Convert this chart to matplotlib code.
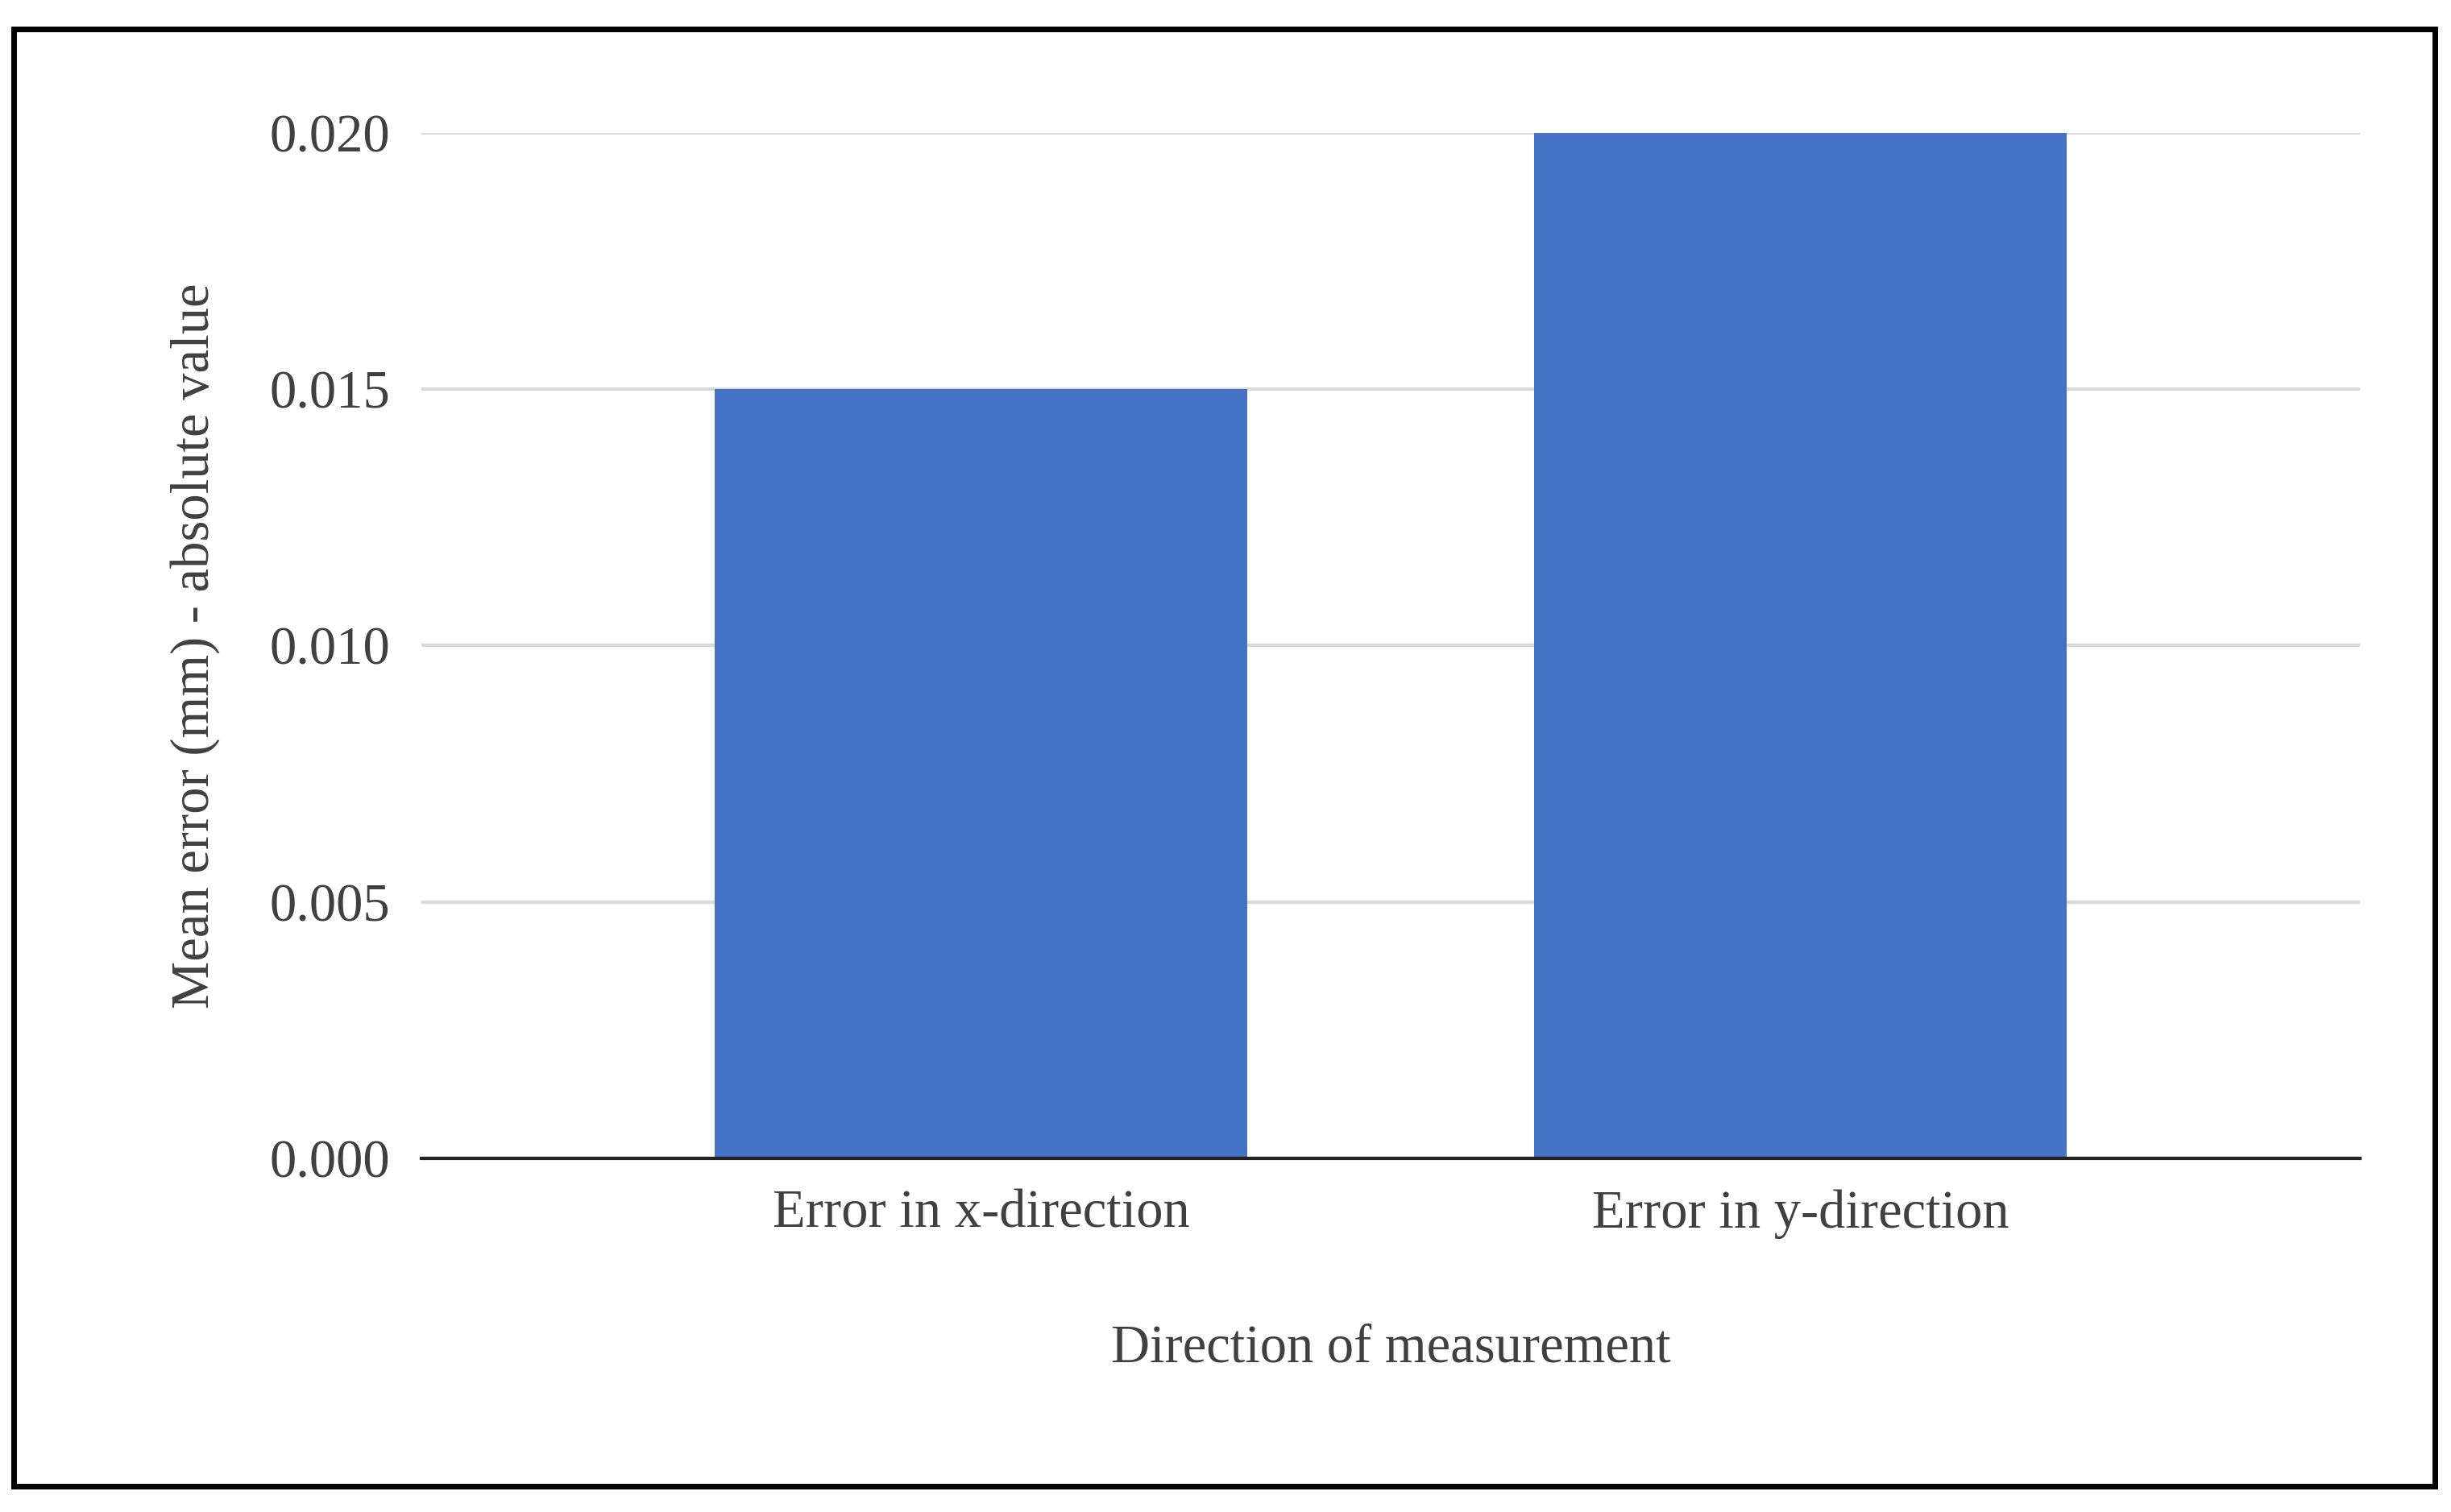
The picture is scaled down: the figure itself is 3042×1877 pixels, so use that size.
import matplotlib
matplotlib.use("Agg")
import matplotlib.pyplot as plt
from matplotlib.patches import Rectangle

categories = ["Error in x-direction", "Error in y-direction"]
values = [0.015, 0.020]
yticks = [0.000, 0.005, 0.010, 0.015, 0.020]

plt.rcParams['font.family'] = ['Liberation Serif', 'DejaVu Serif']
fig = plt.figure(figsize=(15.21, 9.385), dpi=200)
ax = fig.add_axes([0.172, 0.234, 0.791, 0.678])
ax.bar(range(len(categories)), values, width=0.65, color="#4472C4", zorder=3)
ax.set_xlim(-0.683, 1.683)
ax.set_ylim(0, 0.020)
ax.set_yticks(yticks)
ax.set_yticklabels([f"{v:.3f}" for v in yticks])
ax.set_xticks(range(len(categories)))
ax.set_xticklabels(categories)
ax.grid(axis='y', color="#D9D9D9", linewidth=1.5, zorder=0)
for s in ['top', 'right', 'left']:
    ax.spines[s].set_visible(False)
ax.spines['bottom'].set_linewidth(1.5)
ax.spines['bottom'].set_color("#222222")
ax.spines['bottom'].set_zorder(4)
ax.tick_params(axis='both', length=0, labelsize=24, colors="#404040", pad=14)
ax.set_ylabel("Mean error (mm) - absolute value", fontsize=24, color="#404040", labelpad=22)
ax.set_xlabel("Direction of measurement", fontsize=24, color="#404040", labelpad=38)
fig.patches.append(Rectangle((0.0055, 0.017), 0.988, 0.964, transform=fig.transFigure,
                             fill=False, edgecolor="black", linewidth=2.5))
fig.savefig("out.png", dpi=200, facecolor="white")
